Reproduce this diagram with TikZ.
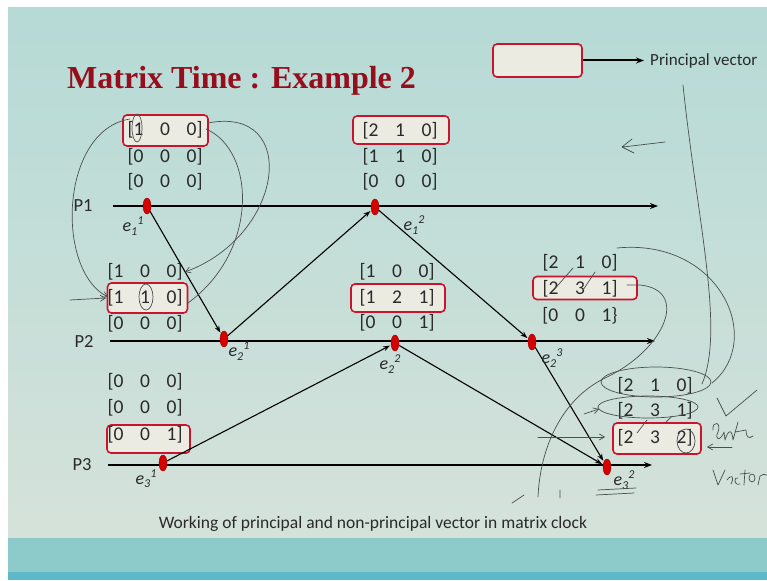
\documentclass[tikz,border=0pt]{standalone}
\usepackage{fontspec}
\setmainfont{Carlito}
\newfontfamily\titlefont{Liberation Serif}
\usetikzlibrary{shapes.geometric,arrows.meta}
\definecolor{slidetop}{HTML}{B6DAD6}
\definecolor{slidebot}{HTML}{D5E2DA}
\definecolor{bandA}{HTML}{8DCACA}
\definecolor{bandB}{HTML}{5DB8C8}
\definecolor{titlered}{HTML}{960E1C}
\definecolor{boxred}{HTML}{C8142C}
\definecolor{boxfill}{HTML}{ECEBE2}
\definecolor{evred}{HTML}{D60000}
\definecolor{ink}{HTML}{2A2A2A}
\definecolor{pen}{HTML}{4A4F4F}
\newcommand\cells[3]{\makebox[21pt][l]{#1}\makebox[21pt]{#2}\makebox[21pt][r]{#3}}
\newcommand\evl[2]{\textit{e}\raisebox{-0.45ex}{\fontsize{12}{12}\selectfont\textit{#1}}\raisebox{0.75ex}{\fontsize{12}{12}\selectfont\textit{#2}}}
\begin{document}
\begin{tikzpicture}[x=1pt,y=-1pt,
  mrow/.style={font=\fontsize{19.5}{19.5}\selectfont, text=ink, inner sep=0pt, anchor=center},
  hbox/.style={draw=boxred, line width=1.6pt, rounded corners=4pt, fill=boxfill, inner sep=0pt},
  proc/.style={draw=black, line width=1.8pt, -{Stealth[length=8pt,width=6pt]}},
  msg/.style={draw=black, line width=1.1pt, -{Stealth[length=7pt,width=5pt]}, shorten >=1pt},
  ev/.style={ellipse, fill=evred, draw=evred!70!black, line width=0.4pt, minimum width=8pt, minimum height=16pt, inner sep=0pt},
  evlab/.style={font=\fontsize{18}{18}\selectfont, text=ink, inner sep=0pt},
  plab/.style={font=\fontsize{18.5}{18.5}\selectfont, text=ink, inner sep=0pt},
  hand/.style={draw=pen, line width=0.7pt, line cap=round, line join=round},
  handarrow/.style={hand, -{Straight Barb[length=5pt,width=6pt]}}
]
\useasboundingbox (0,0) rectangle (767,580);
\fill[white] (0,0) rectangle (767,580);
\shade[top color=slidetop, bottom color=slidebot] (8,8) rectangle (767,538);
\fill[bandA] (8,538) rectangle (767,572);
\fill[bandB] (8,572) rectangle (767,580);

% title
\node[font=\titlefont\bfseries\fontsize{32}{32}\selectfont, text=titlered, anchor=base west, inner sep=0pt] (title) at (67,89) {Matrix Time : Example 2};

% legend
\node[hbox, minimum width=89pt, minimum height=33pt] (legbox) at (537.5,60.5) {};
\node[font=\fontsize{17}{17}\selectfont, text=ink, anchor=west, inner sep=0pt] (legtext) at (650,60.5) {Principal vector};
\coordinate (legtip) at (644,60.5);
\draw[line width=2pt, -{Stealth[length=8pt,width=6pt]}] (legbox.east) -- (legtip);

% highlight boxes
\node[hbox, minimum width=85pt, minimum height=31pt] (b1) at (165.5,130.5) {};
\node[hbox, minimum width=96pt, minimum height=28pt] (b2) at (401,130) {};
\node[hbox, minimum width=80pt, minimum height=30pt] (b3) at (147.5,298) {};
\node[hbox, minimum width=94pt, minimum height=28pt] (b4) at (398,298) {};
\node[hbox, minimum width=104pt, minimum height=23pt] (b5) at (585,288) {};
\node[hbox, minimum width=83pt, minimum height=28pt] (b6) at (148.5,439) {};
\node[hbox, minimum width=88pt, minimum height=31pt] (b7) at (657,438.5) {};

% matrices
\node[mrow] (m1a) at (165,130) {[\cells{1}{0}{0}]};
\node[mrow] (m1b) at (165,157) {[\cells{0}{0}{0}]};
\node[mrow] (m1c) at (165,182) {[\cells{0}{0}{0}]};

\node[mrow] (m2a) at (400,131) {[\cells{2}{1}{0}]};
\node[mrow] (m2b) at (400,157) {[\cells{1}{1}{0}]};
\node[mrow] (m2c) at (400,182) {[\cells{0}{0}{0}]};

\node[mrow] (m3a) at (145,272) {[\cells{1}{0}{0}]};
\node[mrow] (m3b) at (145,298) {[\cells{1}{1}{0}]};
\node[mrow] (m3c) at (145,324) {[\cells{0}{0}{0}]};

\node[mrow] (m4a) at (397,272) {[\cells{1}{0}{0}]};
\node[mrow] (m4b) at (397,298) {[\cells{1}{2}{1}]};
\node[mrow] (m4c) at (397,323) {[\cells{0}{0}{1}]};

\node[mrow] (m5a) at (580,263) {[\cells{2}{1}{0}]};
\node[mrow] (m5b) at (580,289) {[\cells{2}{3}{1}]};
\node[mrow] (m5c) at (580,316) {[\cells{0}{0}{1}\}};

\node[mrow] (m6a) at (145,382) {[\cells{0}{0}{0}]};
\node[mrow] (m6b) at (145,408) {[\cells{0}{0}{0}]};
\node[mrow] (m6c) at (145,435) {[\cells{0}{0}{1}]};

\node[mrow] (m7a) at (655,386) {[\cells{2}{1}{0}]};
\node[mrow] (m7b) at (655,411) {[\cells{2}{3}{1}]};
\node[mrow] (m7c) at (655,438) {[\cells{2}{3}{2}]};

% process lines
\node[plab] (p1) at (83,206) {P1};
\node[plab] (p2) at (84,341) {P2};
\node[plab] (p3) at (82,465) {P3};
\coordinate (p1s) at (113,206);
\coordinate (p1e) at (658,206);
\coordinate (p2s) at (110,341);
\coordinate (p2e) at (655,341);
\coordinate (p3s) at (108,465);
\coordinate (p3e) at (652,465);
\draw[proc] (p1s) -- (p1e);
\draw[proc] (p2s) -- (p2e);
\draw[proc] (p3s) -- (p3e);

% events
\node[ev] (e11) at (147,206) {};
\node[ev] (e12) at (375,207) {};
\node[ev] (e21) at (224,339) {};
\node[ev] (e22) at (395,343) {};
\node[ev] (e23) at (532,342) {};
\node[ev] (e31) at (163,463) {};
\node[ev] (e32) at (607,467) {};

% messages
\draw[msg] (e11) -- (e21);
\draw[msg] (e21) -- (e12);
\draw[msg] (e12) -- (e23);
\draw[msg] (e31) -- (e22);
\draw[msg] (e22) -- (e32);
\draw[msg] (e23) -- (e32);

% event labels
\node[evlab] (l11) at (133,226) {\evl{1}{1}};
\node[evlab] (l12) at (414,225) {\evl{1}{2}};
\node[evlab] (l21) at (239,351) {\evl{2}{1}};
\node[evlab] (l22) at (390,364) {\evl{2}{2}};
\node[evlab] (l23) at (552,358) {\evl{2}{3}};
\node[evlab] (l31) at (146,479) {\evl{3}{1}};
\node[evlab] (l32) at (624,480) {\evl{3}{2}};

% caption
\node[font=\fontsize{17.5}{17.5}\selectfont, text=ink, inner sep=0pt] (cap) at (373,524) {Working of principal and non-principal vector in matrix clock};

% handwritten annotations
\draw[hand] (137,128) ellipse [x radius=5, y radius=14];
\draw[handarrow] (130,119) .. controls (60,130) and (55,270) .. (108,297);
\draw[handarrow] (70,300) -- (106,298);
\draw[handarrow] (208,123) .. controls (300,105) and (285,235) .. (185,272);
\draw[hand] (206,129) .. controls (255,150) and (260,250) .. (188,303);
\draw[hand] (146,297) ellipse [x radius=7, y radius=13];
% left arrow near top right
\draw[hand] (665,142) -- (623,147) (632,139) -- (622,147) -- (634,153);
% long right curves
\draw[hand] (683,85) .. controls (697,220) and (725,330) .. (702,384);
\draw[hand] (617,248) .. controls (720,238) and (765,340) .. (712,383);
\draw[hand] (627,285) -- (640,285) .. controls (690,290) and (665,350) .. (605,378) .. controls (560,400) and (540,450) .. (538,497);
% slashes in matrices
\draw[hand] (552,292) -- (573,268);
\draw[hand] (583,290) -- (595,272);
\draw[hand] (637,433) -- (647,420);
\draw[hand] (665,423) -- (672,416);
% loops near e3^2
\draw[hand] (656,382) ellipse [x radius=55, y radius=15];
\draw[hand] (648,407) ellipse [x radius=50, y radius=11];
\draw[hand] (686,441) ellipse [x radius=9, y radius=12];
\draw[handarrow] (584,414) -- (599,409);
\draw[handarrow] (538,437) -- (605,437);
\draw[handarrow] (732,447) -- (707,447);
% tick, scribbles
\draw[hand] (717,398) -- (726,416) -- (757,390);
\draw[hand] (713,430) .. controls (712,420) and (722,422) .. (718,432) .. controls (714,440) and (720,442) .. (724,432) -- (725,440) .. controls (728,430) and (732,428) .. (733,440) -- (738,422) (735,432) -- (746,430) .. controls (746,436) and (748,440) .. (753,436);
\draw[hand] (713,470) -- (718,485) -- (725,470) (727,480) .. controls (731,474) and (735,476) .. (731,484) (738,478) .. controls (734,476) and (733,486) .. (740,484) (745,470) -- (744,485) (740,474) -- (750,473) (752,478) ellipse [x radius=3, y radius=4] (758,485) -- (760,476) .. controls (762,474) and (765,474) .. (767,475);
\draw[hand] (598,490) -- (636,488) (596,495) -- (634,493);
\draw[hand] (512,503) -- (524,495) (560,490) -- (560,498);
\end{tikzpicture}
\end{document}
